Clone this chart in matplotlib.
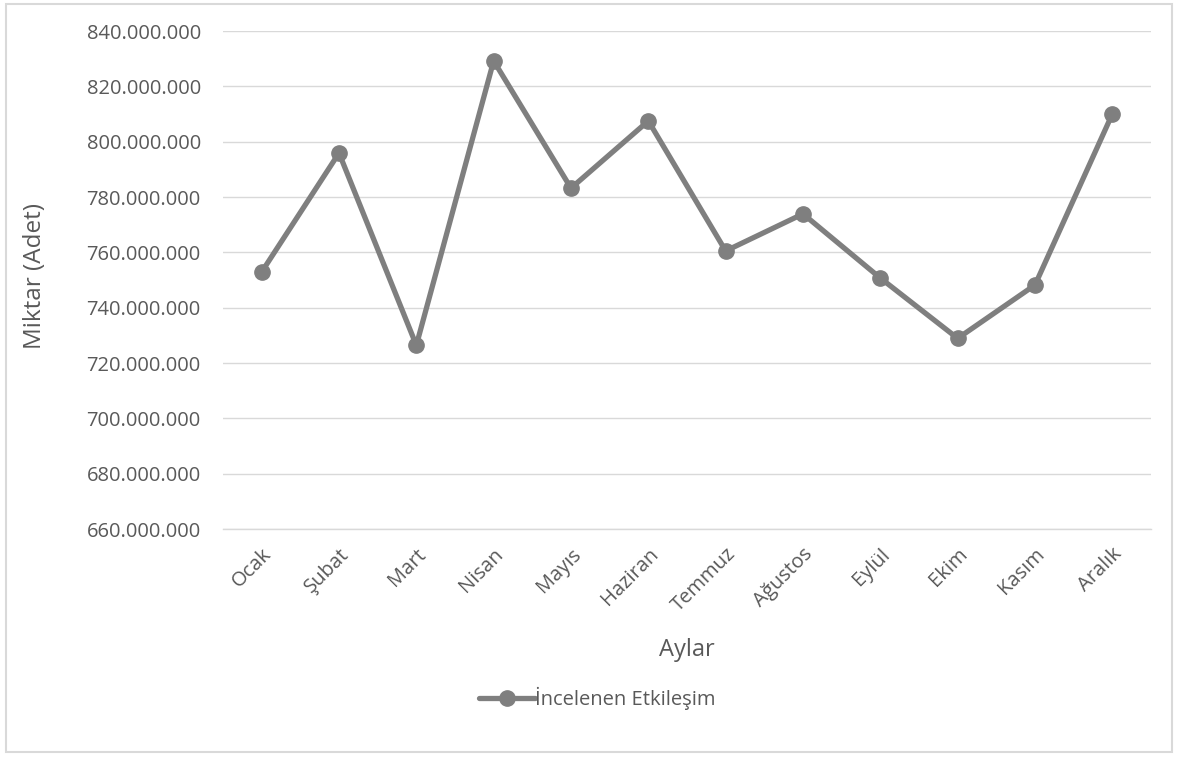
import matplotlib
matplotlib.use("Agg")
import matplotlib.pyplot as plt
from matplotlib.lines import Line2D
from matplotlib.patches import Rectangle
from matplotlib.ticker import FuncFormatter

months = ["Ocak", "Şubat", "Mart", "Nisan", "Mayıs", "Haziran",
          "Temmuz", "Ağustos", "Eylül", "Ekim", "Kasım", "Aralık"]
values = [752.9, 795.9, 726.4, 829.2, 783.2, 807.5,
          760.5, 773.9, 750.7, 728.9, 748.2, 810.0]  # millions
values = [v * 1e6 for v in values]

plt.rcParams["font.family"] = ["Open Sans", "DejaVu Sans"]
text_color = "#595959"
line_color = "#7f7f7f"
grid_color = "#d9d9d9"

fig = plt.figure(figsize=(11.78, 7.61), dpi=100)
ax = fig.add_axes([223 / 1178, 1 - 529 / 761, 928 / 1178, 498 / 761])

x = list(range(len(months)))
ax.plot(x, values, color=line_color, lw=3.8, marker="o", ms=11,
        solid_joinstyle="round", solid_capstyle="round", zorder=3)

ax.set_xlim(-0.5, len(months) - 0.5)
ax.set_ylim(660e6, 840e6)
ax.set_yticks([660e6 + i * 20e6 for i in range(10)])
ax.yaxis.set_major_formatter(
    FuncFormatter(lambda v, p: f"{v:,.0f}".replace(",", ".")))
ax.set_xticks(x)
ax.set_xticklabels(months, rotation=45, ha="right", rotation_mode="anchor")

ax.grid(axis="y", color=grid_color, lw=1)
ax.set_axisbelow(True)
for s in ["top", "right", "left"]:
    ax.spines[s].set_visible(False)
ax.spines["bottom"].set_color(grid_color)
ax.spines["bottom"].set_linewidth(1)
ax.tick_params(axis="both", length=0, labelsize=14.5, colors=text_color)
ax.tick_params(axis="y", pad=16)
ax.tick_params(axis="x", pad=11)

fig.text(35 / 1178, 1 - 276 / 761, "Miktar (Adet)", fontsize=17.5,
         color=text_color, rotation=90, ha="center", va="center")
fig.text(687 / 1178, 1 - 650 / 761, "Aylar", fontsize=17, color=text_color,
         ha="center", va="center")

handle = Line2D([], [], color=line_color, lw=3.8, marker="o", ms=11,
                solid_capstyle="round")
fig.legend([handle], ["İncelenen Etkileşim"], loc="center",
           bbox_to_anchor=(597 / 1178, 1 - 698 / 761), frameon=False,
           fontsize=14.5, labelcolor=text_color, handlelength=2.8,
           handletextpad=0.0)

fig.patches.append(Rectangle((6 / 1178, 1 - 752 / 761), 1166 / 1178, 748 / 761,
                             transform=fig.transFigure, fill=False,
                             edgecolor=grid_color, lw=1.5))

fig.savefig("out.png", dpi=100)
